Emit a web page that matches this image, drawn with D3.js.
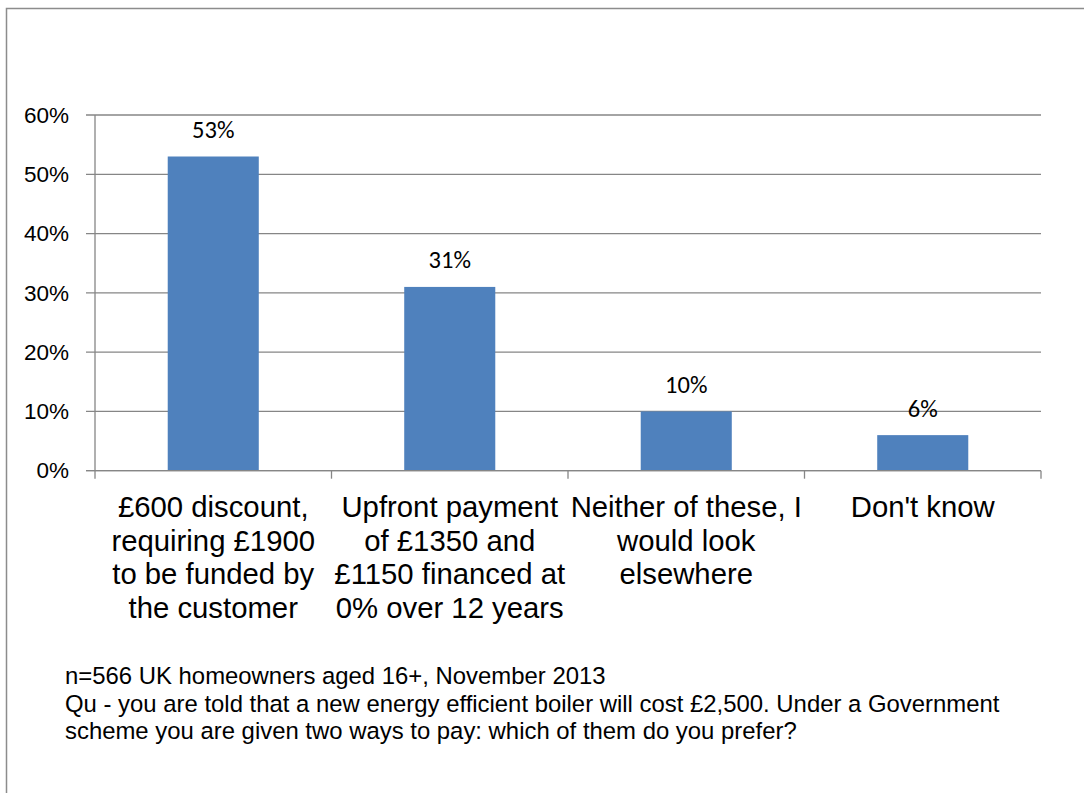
<!DOCTYPE html>
<html>
<head>
<meta charset="utf-8">
<script src="https://cdn.jsdelivr.net/npm/d3@7"></script>
<style>
  html, body { margin: 0; padding: 0; background: #ffffff; }
  svg { display: block; }
</style>
</head>
<body>
<svg id="chart" width="1084" height="793"></svg>
<script>
// Survey answers: preferred way of paying for a new boiler
const categories = [
  "£600 discount,\nrequiring £1900\nto be funded by\nthe customer",
  "Upfront payment\nof £1350 and\n£1150 financed at\n0% over 12 years",
  "Neither of these, I\nwould look\nelsewhere",
  "Don't know"
];
const shares = [0.53, 0.31, 0.10, 0.06];
const yTickValues = [0, 0.1, 0.2, 0.3, 0.4, 0.5, 0.6];
const footnoteLines = [
  "n=566 UK homeowners aged 16+, November 2013",
  "Qu - you are told that a new energy efficient boiler will cost £2,500. Under a Government",
  "scheme you are given two ways to pay: which of them do you prefer?"
];

const svg = d3.select("#chart");
const axisColor = "#868686";
const barColor = "#4F81BD";
const sans = "'Liberation Sans', Arial, Helvetica, sans-serif";
const labelFont = "Calibri, Carlito, Lato, sans-serif";

const plot = { left: 95, right: 1041, top: 115, bottom: 470.7 };

// Outer frame (only the top and left edges fall inside the page)
svg.append("rect")
  .attr("x", 6.5).attr("y", 8.5)
  .attr("width", 1200).attr("height", 1000)
  .attr("fill", "none")
  .attr("stroke", "#8c8c8c")
  .attr("stroke-width", 1.5);

const x = d3.scaleBand()
  .domain(categories)
  .range([plot.left, plot.right])
  .paddingInner(0.615)
  .paddingOuter(0.3075);

const y = d3.scaleLinear()
  .domain([0, 0.6])
  .range([plot.bottom, plot.top]);

// Horizontal gridlines with short tick stubs left of the axis
svg.append("g")
  .selectAll("line")
  .data(yTickValues)
  .join("line")
  .attr("x1", plot.left - 9)
  .attr("x2", plot.right)
  .attr("y1", d => y(d))
  .attr("y2", d => y(d))
  .attr("stroke", axisColor)
  .attr("stroke-width", 1.3);

// Y axis labels
const yAxis = d3.axisLeft(y)
  .tickValues(yTickValues)
  .tickFormat(d3.format(".0%"))
  .tickSize(9)
  .tickSizeOuter(0)
  .tickPadding(17);

const yg = svg.append("g")
  .attr("transform", `translate(${plot.left},0)`)
  .call(yAxis);
yg.select(".domain").remove();
yg.selectAll(".tick line").remove();
yg.selectAll("text")
  .attr("font-family", sans)
  .attr("font-size", 22.5)
  .attr("fill", "#000");

// Vertical axis line
svg.append("line")
  .attr("x1", plot.left).attr("x2", plot.left)
  .attr("y1", plot.top).attr("y2", plot.bottom + 8)
  .attr("stroke", axisColor)
  .attr("stroke-width", 1.3);

// Category boundary ticks on the x axis
const step = x.step();
const boundaries = d3.range(categories.length + 1).map(i => x.range()[0] + i * step);
svg.append("g")
  .selectAll("line")
  .data(boundaries.slice(1))
  .join("line")
  .attr("x1", d => d).attr("x2", d => d)
  .attr("y1", plot.bottom).attr("y2", plot.bottom + 8)
  .attr("stroke", axisColor)
  .attr("stroke-width", 1.3);

// Bars
svg.append("g")
  .selectAll("rect")
  .data(shares)
  .join("rect")
  .attr("x", (d, i) => x(categories[i]))
  .attr("y", d => y(d))
  .attr("width", x.bandwidth())
  .attr("height", d => y(0) - y(d))
  .attr("fill", barColor);

// Value labels above bars
svg.append("g")
  .selectAll("text")
  .data(shares)
  .join("text")
  .attr("x", (d, i) => x(categories[i]) + x.bandwidth() / 2)
  .attr("y", d => y(d) - 18.5)
  .attr("text-anchor", "middle")
  .attr("font-family", labelFont)
  .attr("font-size", 24.5)
  .attr("fill", "#000")
  .text(d => d3.format(".0%")(d));

// Horizontal x axis line (drawn over bar bottoms)
svg.append("line")
  .attr("x1", plot.left - 9).attr("x2", plot.right)
  .attr("y1", plot.bottom).attr("y2", plot.bottom)
  .attr("stroke", axisColor)
  .attr("stroke-width", 1.3);

// Multi-line category labels
const catG = svg.append("g");
categories.forEach(c => {
  const t = catG.append("text")
    .attr("x", x(c) + x.bandwidth() / 2)
    .attr("y", 516.7)
    .attr("text-anchor", "middle")
    .attr("font-family", sans)
    .attr("font-size", 29.3)
    .attr("fill", "#000");
  c.split("\n").forEach((line, j) => {
    t.append("tspan")
      .attr("x", x(c) + x.bandwidth() / 2)
      .attr("dy", j === 0 ? 0 : 33.8)
      .text(line);
  });
});

// Footnote
svg.append("g")
  .selectAll("text")
  .data(footnoteLines)
  .join("text")
  .attr("x", 65)
  .attr("y", (d, i) => [684, 711.8, 739][i])
  .attr("font-family", sans)
  .attr("font-size", 23.9)
  .attr("fill", "#000")
  .text(d => d);
</script>
</body>
</html>
